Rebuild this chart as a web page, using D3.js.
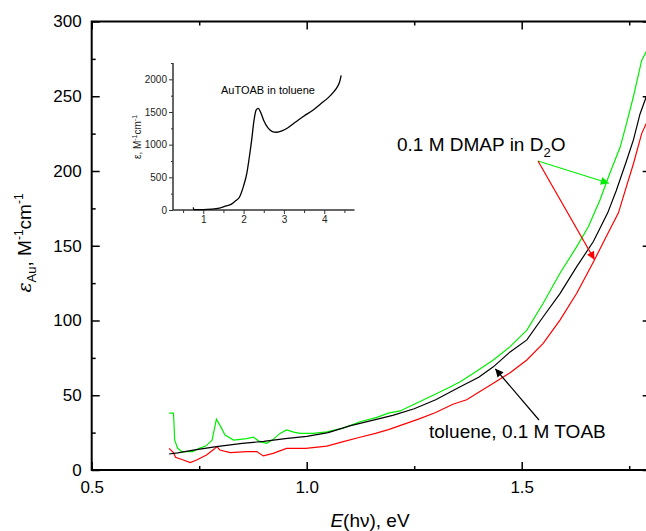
<!DOCTYPE html>
<html>
<head>
<meta charset="utf-8">
<script src="https://cdn.jsdelivr.net/npm/d3@7"></script>
<style>
  body { margin: 0; background: #fff; }
  svg { font-family: "Liberation Sans", Arial, sans-serif; display: block; }
  .domain { display: none; }
</style>
</head>
<body>
<svg id="chart" width="646" height="531"></svg>
<script>
// main spectra: energy (eV) and epsilon per Au (M^-1 cm^-1)
const dmapGreenE = [0.68, 0.69, 0.691, 0.693, 0.70, 0.71, 0.735, 0.75, 0.765, 0.78, 0.79, 0.80, 0.81, 0.83, 0.86, 0.876, 0.89, 0.907, 0.92, 0.938, 0.953, 0.97, 0.985, 1.015, 1.047, 1.085, 1.124, 1.163, 1.19, 1.217, 1.25, 1.294, 1.33, 1.357, 1.395, 1.434, 1.473, 1.512, 1.55, 1.589, 1.628, 1.655, 1.682, 1.705, 1.729, 1.744, 1.76, 1.779, 1.79, 1.80];
const dmapGreenEps = [38, 38, 33.5, 20, 14.5, 12.3, 12.3, 14.5, 16, 20, 34, 29, 23.4, 20, 21, 22, 19, 17.8, 20, 24.5, 26.8, 25.3, 24.5, 24.5, 25.5, 28, 32.3, 35.2, 38, 39.5, 44, 50, 55, 59, 66, 73.6, 82.5, 93.6, 111.5, 131.6, 149.4, 162.7, 180.6, 198.5, 216, 232, 250, 274, 280, 284];

const tolueneE = [0.68, 0.70, 0.74, 0.79, 0.85, 0.90, 0.95, 1.00, 1.05, 1.10, 1.15, 1.20, 1.25, 1.30, 1.357, 1.40, 1.434, 1.473, 1.512, 1.55, 1.589, 1.628, 1.667, 1.70, 1.72, 1.744, 1.76, 1.775, 1.79, 1.80];
const tolueneEps = [10.7, 11.5, 13.5, 15.6, 17.8, 19.2, 21, 22.5, 25, 29.5, 33, 36.5, 41, 47, 55.7, 62, 69, 79, 87, 102.5, 118, 136, 153, 172, 187, 207, 221, 238, 250, 256];

const dmapRedE = [0.68, 0.69, 0.695, 0.713, 0.729, 0.744, 0.767, 0.785, 0.791, 0.798, 0.822, 0.86, 0.884, 0.899, 0.922, 0.953, 0.998, 1.047, 1.085, 1.124, 1.16, 1.19, 1.22, 1.26, 1.30, 1.34, 1.372, 1.40, 1.434, 1.473, 1.512, 1.55, 1.589, 1.628, 1.667, 1.70, 1.725, 1.744, 1.76, 1.779, 1.79, 1.80];
const dmapRedEps = [14.5, 11.6, 8.5, 6.7, 4.9, 6.7, 10, 14, 15.6, 13.4, 11.6, 12.3, 12.3, 9.4, 11.1, 14.5, 14.5, 16, 19, 21.9, 24.5, 27, 30, 34, 38.5, 44, 47, 52, 58, 65, 73.6, 84.7, 100.3, 118.2, 139.3, 158, 172, 190, 205, 225, 232, 237];

// inset: AuTOAB in toluene, wide range
const insetE = [0.75, 0.77, 1.0, 1.2, 1.4, 1.55, 1.7, 1.8, 1.9, 2.0, 2.08, 2.14, 2.2, 2.26, 2.31, 2.365, 2.42, 2.5, 2.6, 2.7, 2.82, 2.95, 3.1, 3.3, 3.5, 3.7, 3.9, 4.1, 4.25, 4.32, 4.38, 4.42];
const insetEps = [40, 5, 5, 12, 30, 60, 90, 140, 200, 370, 560, 800, 1070, 1380, 1530, 1556, 1500, 1370, 1260, 1205, 1190, 1210, 1260, 1350, 1440, 1520, 1620, 1720, 1820, 1880, 1960, 2060];

const xMajor = [0.5, 1.0, 1.5];
const xMinor = [0.75, 1.25, 1.75];
const yMajor = [0, 50, 100, 150, 200, 250, 300];
const yMinor = [25, 75, 125, 175, 225, 275];
const insetXMajor = [1, 2, 3, 4];
const insetXMinor = [0.5, 1.5, 2.5, 3.5, 4.5];
const insetYMajor = [0, 500, 1000, 1500, 2000];
const insetYMinor = [250, 750, 1250, 1750, 2250];

const svg = d3.select('#chart');

const x = d3.scaleLinear().domain([0.5, 1.8]).range([91.7, 650.7]);
const y = d3.scaleLinear().domain([0, 300]).range([470, 21.5]);

const defs = svg.append('defs');
defs.append('clipPath').attr('id', 'plotclip')
  .append('rect')
  .attr('x', x(0.5)).attr('y', y(300))
  .attr('width', x(1.8) - x(0.5)).attr('height', y(0) - y(300));

function arrowMarker(id, color) {
  defs.append('marker')
    .attr('id', id)
    .attr('viewBox', '0 0 10 10')
    .attr('refX', 10).attr('refY', 5)
    .attr('markerWidth', 12).attr('markerHeight', 8)
    .attr('markerUnits', 'userSpaceOnUse')
    .attr('orient', 'auto')
    .append('path')
    .attr('d', 'M0,0 L10,5 L0,10 z')
    .attr('fill', color);
}
arrowMarker('ah-green', '#00ee00');
arrowMarker('ah-red', '#ff0000');
arrowMarker('ah-black', '#000');

// axes: ticks point inward on all four sides
const gx = svg.append('g').attr('transform', `translate(0,${y(0)})`);
gx.call(d3.axisBottom(x).tickValues(xMajor).tickSize(-8).tickPadding(11).tickFormat(d3.format('.1f')));
gx.append('g').call(d3.axisBottom(x).tickValues(xMinor).tickSize(-4).tickFormat(''));

const gxt = svg.append('g').attr('transform', `translate(0,${y(300)})`);
gxt.call(d3.axisTop(x).tickValues(xMajor).tickSize(-8).tickFormat(''));
gxt.append('g').call(d3.axisTop(x).tickValues(xMinor).tickSize(-4).tickFormat(''));

const gy = svg.append('g').attr('transform', `translate(${x(0.5)},0)`);
gy.call(d3.axisLeft(y).tickValues(yMajor).tickSize(-8).tickPadding(10).tickFormat(d3.format('d')));
gy.append('g').call(d3.axisLeft(y).tickValues(yMinor).tickSize(-4).tickFormat(''));

const gyr = svg.append('g').attr('transform', `translate(${x(1.8)},0)`);
gyr.call(d3.axisRight(y).tickValues(yMajor).tickSize(-8).tickFormat(''));
gyr.append('g').call(d3.axisRight(y).tickValues(yMinor).tickSize(-4).tickFormat(''));

svg.selectAll('.tick line').attr('stroke', '#000').attr('stroke-width', 1.5);
svg.selectAll('.tick text').attr('font-size', 17).attr('fill', '#000')
  .attr('font-family', '"Liberation Sans", Arial, sans-serif');

svg.append('rect')
  .attr('x', x(0.5)).attr('y', y(300))
  .attr('width', x(1.8) - x(0.5)).attr('height', y(0) - y(300))
  .attr('fill', 'none').attr('stroke', '#000').attr('stroke-width', 2);

// spectra
const line = d3.line().x(d => x(d[0])).y(d => y(d[1]));
const plot = svg.append('g').attr('clip-path', 'url(#plotclip)');
const series = [
  { e: dmapRedE, v: dmapRedEps, color: '#ff0000' },
  { e: dmapGreenE, v: dmapGreenEps, color: '#00ee00' },
  { e: tolueneE, v: tolueneEps, color: '#000' }
];
series.forEach(s => {
  plot.append('path')
    .datum(d3.zip(s.e, s.v))
    .attr('d', line)
    .attr('fill', 'none')
    .attr('stroke', s.color)
    .attr('stroke-width', 1.2);
});

// axis titles
const yTitle = svg.append('text')
  .attr('transform', 'translate(31,243) rotate(-90)')
  .attr('text-anchor', 'middle')
  .attr('font-size', 19);
yTitle.append('tspan').attr('font-style', 'italic').attr('font-family', '"DejaVu Serif", serif').text('ε');
yTitle.append('tspan').attr('font-size', 13).attr('dy', 5).text('Au');
yTitle.append('tspan').attr('dy', -5).text(', M');
yTitle.append('tspan').attr('font-size', 12).attr('dy', -8).text('-1');
yTitle.append('tspan').attr('dy', 8).text('cm');
yTitle.append('tspan').attr('font-size', 12).attr('dy', -8).text('-1');

const xTitle = svg.append('text')
  .attr('x', 370).attr('y', 527)
  .attr('text-anchor', 'middle')
  .attr('font-size', 19);
xTitle.append('tspan').attr('font-style', 'italic').text('E');
xTitle.append('tspan').text('(hν), eV');

// annotations
const dmapLabel = svg.append('text').attr('x', 397).attr('y', 151).attr('font-size', 19);
dmapLabel.append('tspan').text('0.1 M DMAP in D');
dmapLabel.append('tspan').attr('font-size', 13).attr('dy', 6).text('2');
dmapLabel.append('tspan').attr('dy', -6).text('O');

const fromE = 538, fromY = 161;
svg.append('line')
  .attr('x1', fromE).attr('y1', fromY)
  .attr('x2', x(1.705) - 1).attr('y2', y(198.5) + 10)
  .attr('stroke', '#00ee00').attr('stroke-width', 1.2)
  .attr('marker-end', 'url(#ah-green)');
svg.append('line')
  .attr('x1', fromE).attr('y1', fromY)
  .attr('x2', x(1.667) + 1).attr('y2', y(139.3) - 2)
  .attr('stroke', '#ff0000').attr('stroke-width', 1.2)
  .attr('marker-end', 'url(#ah-red)');

svg.append('text').attr('x', 429).attr('y', 438).attr('font-size', 19).text('toluene, 0.1 M TOAB');
svg.append('line')
  .attr('x1', 539).attr('y1', 420)
  .attr('x2', x(1.434) + 2).attr('y2', y(69) + 2)
  .attr('stroke', '#000').attr('stroke-width', 1.2)
  .attr('marker-end', 'url(#ah-black)');

// inset
const ix = d3.scaleLinear().domain([0.25, 4.75]).range([173, 354.5]);
const iy = d3.scaleLinear().domain([0, 2250]).range([210, 63]);
const inset = svg.append('g');

const igx = inset.append('g').attr('transform', `translate(0,${iy(0)})`);
igx.call(d3.axisBottom(ix).tickValues(insetXMajor).tickSize(4).tickPadding(2).tickFormat(d3.format('d')));
igx.append('g').call(d3.axisBottom(ix).tickValues(insetXMinor).tickSize(3).tickFormat(''));
const igy = inset.append('g').attr('transform', `translate(${ix(0.25)},0)`);
igy.call(d3.axisLeft(iy).tickValues(insetYMajor).tickSize(4).tickPadding(2).tickFormat(d3.format('d')));
igy.append('g').call(d3.axisLeft(iy).tickValues(insetYMinor).tickSize(2).tickFormat(''));

inset.selectAll('.tick line').attr('stroke', '#333').attr('stroke-width', 1);
inset.selectAll('.tick text').attr('font-size', 10).attr('fill', '#222');
inset.append('line')
  .attr('x1', ix(0.25)).attr('x2', ix(4.75)).attr('y1', iy(0)).attr('y2', iy(0))
  .attr('stroke', '#333').attr('stroke-width', 1.5);
inset.append('line')
  .attr('x1', ix(0.25)).attr('x2', ix(0.25)).attr('y1', iy(0)).attr('y2', iy(2250))
  .attr('stroke', '#333').attr('stroke-width', 1.5);

const iline = d3.line().x(d => ix(d[0])).y(d => iy(d[1])).curve(d3.curveMonotoneX);
inset.append('path')
  .datum(d3.zip(insetE, insetEps))
  .attr('d', iline)
  .attr('fill', 'none').attr('stroke', '#000').attr('stroke-width', 1.3);

inset.append('text').attr('x', 221).attr('y', 94).attr('font-size', 11).text('AuTOAB in toluene');

const iyTitle = inset.append('text')
  .attr('transform', 'translate(141,137) rotate(-90)')
  .attr('text-anchor', 'middle')
  .attr('font-size', 10).attr('fill', '#222');
iyTitle.append('tspan').text('ε, M');
iyTitle.append('tspan').attr('font-size', 7).attr('dy', -4).text('-1');
iyTitle.append('tspan').attr('dy', 4).text('cm');
iyTitle.append('tspan').attr('font-size', 7).attr('dy', -4).text('-1');
</script>
</body>
</html>
